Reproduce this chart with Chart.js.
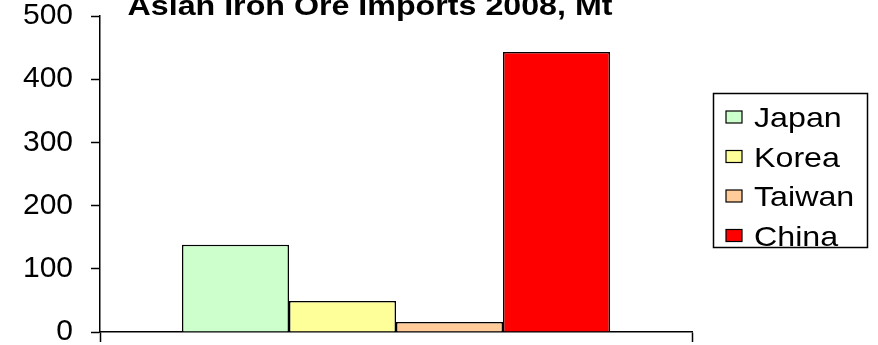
<!DOCTYPE html>
<html>
<head>
<meta charset="utf-8">
<script src="https://cdn.jsdelivr.net/npm/chart.js@4/dist/chart.umd.min.js"></script>
<style>
  html, body { margin: 0; padding: 0; background: #fff; }
  #wrap { width: 878px; height: 345px; position: relative; }
</style>
</head>
<body>
<div id="wrap"><canvas id="chart"></canvas></div>
<script>
  const TITLE      = "Asian Iron Ore Imports 2008, Mt";
  const CATEGORIES = [""];
  const COUNTRIES  = ["Japan", "Korea", "Taiwan", "China"];
  const IMPORTS    = [138, 49, 16, 443];
  const COLORS     = ["#CCFFCC", "#FFFF99", "#FFCC99", "#FF0000"];
  const Y_TICKS    = [0, 100, 200, 300, 400, 500];

  const FONT    = "'Liberation Sans', Arial, sans-serif";
  const STRETCH = 1.15;   // source text is a little wider than plain Arial

  /* ── title, drawn high so the top of the glyphs is clipped like the source ── */
  const titlePlugin = {
    id: "clippedTitle",
    afterDraw(chart) {
      const ctx = chart.ctx;
      ctx.save();
      ctx.font = "bold 28px " + FONT;
      ctx.fillStyle = "#000";
      ctx.textAlign = "center";
      ctx.textBaseline = "alphabetic";
      ctx.translate(370, 15);
      ctx.scale(STRETCH, 1);
      ctx.fillText(TITLE, 0, 0);
      ctx.restore();
    },
  };

  /* ── boxed legend on the right ── */
  const boxLegend = {
    id: "boxLegend",
    afterDraw(chart) {
      const ctx = chart.ctx;
      ctx.save();
      ctx.strokeStyle = "#000";
      ctx.lineWidth = 1.5;
      ctx.strokeRect(713.5, 93.5, 154, 154);
      chart.data.datasets.forEach((ds, i) => {
        const cy = 117 + i * 39.5;
        ctx.fillStyle = ds.backgroundColor;
        ctx.fillRect(726, cy - 6, 16, 12);
        ctx.lineWidth = 1.2;
        ctx.strokeRect(726, cy - 6, 16, 12);

        ctx.save();
        ctx.translate(754, cy + 10);
        ctx.scale(STRETCH, 1);
        ctx.font = "28px " + FONT;
        ctx.fillStyle = "#000";
        ctx.textAlign = "left";
        ctx.textBaseline = "alphabetic";
        ctx.fillText(ds.label, 0, 0);
        ctx.restore();
      });
      ctx.restore();
    },
  };

  const datasets = COUNTRIES.map((name, i) => ({
    label: name,
    data: [IMPORTS[i]],
    backgroundColor: COLORS[i],
    borderColor: "#000",
    borderWidth: 1.5,
    borderSkipped: "start",
    categoryPercentage: 0.723,
    barPercentage: 1.0,
  }));

  new Chart(document.getElementById("chart"), {
    type: "bar",
    data: { labels: CATEGORIES, datasets },
    plugins: [titlePlugin, boxLegend],
    options: {
      responsive: true,
      maintainAspectRatio: false,
      animation: false,
      layout: { padding: { top: 16, right: 186, bottom: 0, left: 0 } },
      plugins: {
        legend: { display: false },
        title: { display: false },
        tooltip: { enabled: false },
      },
      scales: {
        x: {
          offset: true,
          grid: {
            offset: true,
            drawOnChartArea: false,
            drawTicks: true,
            tickLength: 10,
            tickColor: "#000",
            tickWidth: 1.5,
          },
          border: { display: true, color: "#000", width: 1.5 },
          ticks: { display: false },
          afterFit: (s) => { s.height = 13; },
        },
        y: {
          min: 0,
          max: 500,
          afterBuildTicks: (s) => { s.ticks = Y_TICKS.map((v) => ({ value: v })); },
          grid: {
            drawOnChartArea: false,
            drawTicks: true,
            tickLength: 9,
            tickColor: "#000",
            tickWidth: 1.5,
          },
          border: { display: true, color: "#000", width: 1.5 },
          ticks: {
            color: "#000",
            padding: 18,
            font: { family: FONT, size: 30 },
          },
          afterFit: (s) => {
            s.width = 100;
            s.paddingTop = 0;
            s.paddingBottom = 0;
          },
        },
      },
    },
  });
</script>
</body>
</html>
